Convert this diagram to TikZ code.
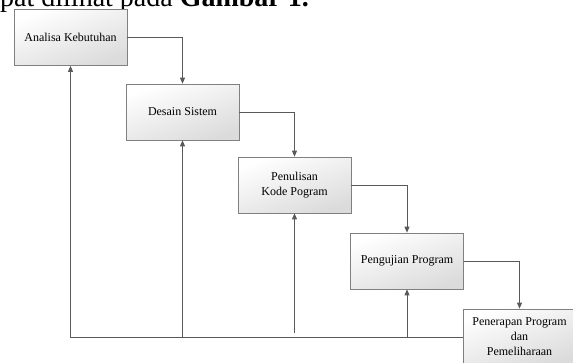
\documentclass[tikz,border=0pt]{standalone}
\usepackage{fontspec}
\setmainfont{Liberation Serif}
\usepackage{xcolor}
\usetikzlibrary{arrows.meta, calc}
\definecolor{boxLine}{RGB}{128, 128, 128}
\definecolor{flowLine}{RGB}{89, 89, 89}

\begin{document}
\begin{tikzpicture}[x=1pt, y=-1pt,
    phase/.style={draw=boxLine, line width=0.7pt, top color=white, bottom color=black!14, shading angle=20, minimum width=113pt, minimum height=56pt, align=center, inner sep=2pt, font=\fontsize{12}{15}\selectfont},
    flow/.style={-{Triangle[length=6pt, width=5pt]}, line width=0.8pt, color=flowLine}]
    \useasboundingbox (0, 0) rectangle (573, 362);

    % Caption line cut by the top edge
    \node[anchor=base west, inner sep=0pt, font=\fontsize{28}{30}\selectfont] (caption) at (0, 6) {pat dilihat pada \textbf{Gambar 1.}};

    % Phases of the waterfall
    \node[phase] (analisa) at (70.5, 37.5) {Analisa Kebutuhan};
    \node[phase] (desain) at (182.5, 112) {Desain Sistem};
    \node[phase] (penulisan) at (294.5, 185) {Penulisan\\Kode Pogram};
    \node[phase] (pengujian) at (407, 261) {Pengujian Program};
    \node[phase] (penerapan) at (519.5, 337) {Penerapan Program\\dan\\Pemeliharaan};

    % Forward arrows
    \draw[flow] (analisa.east) -| (desain.north);
    \draw[flow] (desain.east) -| (penulisan.north);
    \draw[flow] (penulisan.east) -| (pengujian.north);
    \draw[flow] (pengujian.east) -| (penerapan.north);

    % Feedback arrows
    \draw[flow] (penerapan.west) -- (analisa |- penerapan.west) -- (analisa.south);
    \draw[flow] (desain |- penerapan.west) -- (desain.south);
    \draw[flow] ($(penulisan |- penerapan.west) + (0, -4)$) -- (penulisan.south);
    \draw[flow] (pengujian |- penerapan.west) -- (pengujian.south);
\end{tikzpicture}
\end{document}
